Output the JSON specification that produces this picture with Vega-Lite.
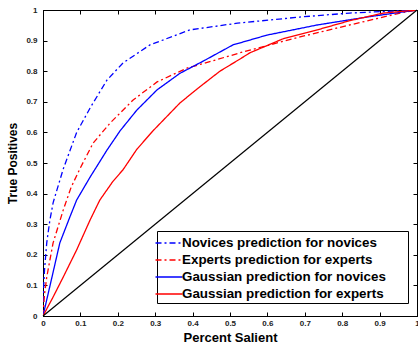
{
  "$schema": "https://vega.github.io/schema/vega-lite/v6.json",
  "width": 374,
  "height": 306,
  "autosize": {"type": "none"},
  "padding": {"left": 43, "top": 10, "right": 1, "bottom": 31},
  "background": "white",
  "config": {
    "view": {"stroke": "black", "strokeWidth": 1},
    "font": "Liberation Sans",
    "axis": {
      "grid": false,
      "domainColor": "black",
      "tickColor": "black",
      "labelFont": "Liberation Sans",
      "labelFontWeight": "bold",
      "labelFontSize": 8,
      "labelColor": "#222",
      "titleFont": "Liberation Sans",
      "titleFontWeight": "bold",
      "titleColor": "black"
    }
  },
  "datasets": {
    "curves": [
      {"s": "Novices prediction for novices", "x": 0, "y": 0},
      {"s": "Novices prediction for novices", "x": 0.002, "y": 0.1},
      {"s": "Novices prediction for novices", "x": 0.004, "y": 0.15},
      {"s": "Novices prediction for novices", "x": 0.01, "y": 0.239},
      {"s": "Novices prediction for novices", "x": 0.018, "y": 0.31},
      {"s": "Novices prediction for novices", "x": 0.027, "y": 0.37},
      {"s": "Novices prediction for novices", "x": 0.054, "y": 0.48},
      {"s": "Novices prediction for novices", "x": 0.09, "y": 0.6},
      {"s": "Novices prediction for novices", "x": 0.126, "y": 0.68},
      {"s": "Novices prediction for novices", "x": 0.171, "y": 0.771},
      {"s": "Novices prediction for novices", "x": 0.214, "y": 0.827},
      {"s": "Novices prediction for novices", "x": 0.286, "y": 0.886},
      {"s": "Novices prediction for novices", "x": 0.393, "y": 0.935},
      {"s": "Novices prediction for novices", "x": 0.52, "y": 0.957},
      {"s": "Novices prediction for novices", "x": 0.687, "y": 0.977},
      {"s": "Novices prediction for novices", "x": 0.82, "y": 0.99},
      {"s": "Novices prediction for novices", "x": 1, "y": 1},
      {"s": "Experts prediction for experts", "x": 0, "y": 0},
      {"s": "Experts prediction for experts", "x": 0.004, "y": 0.07},
      {"s": "Experts prediction for experts", "x": 0.01, "y": 0.127},
      {"s": "Experts prediction for experts", "x": 0.027, "y": 0.239},
      {"s": "Experts prediction for experts", "x": 0.054, "y": 0.346},
      {"s": "Experts prediction for experts", "x": 0.075, "y": 0.42},
      {"s": "Experts prediction for experts", "x": 0.099, "y": 0.482},
      {"s": "Experts prediction for experts", "x": 0.134, "y": 0.565},
      {"s": "Experts prediction for experts", "x": 0.179, "y": 0.63},
      {"s": "Experts prediction for experts", "x": 0.241, "y": 0.706},
      {"s": "Experts prediction for experts", "x": 0.305, "y": 0.765},
      {"s": "Experts prediction for experts", "x": 0.385, "y": 0.81},
      {"s": "Experts prediction for experts", "x": 0.42, "y": 0.822},
      {"s": "Experts prediction for experts", "x": 0.535, "y": 0.863},
      {"s": "Experts prediction for experts", "x": 0.687, "y": 0.912},
      {"s": "Experts prediction for experts", "x": 0.82, "y": 0.951},
      {"s": "Experts prediction for experts", "x": 0.955, "y": 0.99},
      {"s": "Experts prediction for experts", "x": 1, "y": 1},
      {"s": "Gaussian prediction for novices", "x": 0, "y": 0},
      {"s": "Gaussian prediction for novices", "x": 0.024, "y": 0.127},
      {"s": "Gaussian prediction for novices", "x": 0.045, "y": 0.239},
      {"s": "Gaussian prediction for novices", "x": 0.072, "y": 0.324},
      {"s": "Gaussian prediction for novices", "x": 0.09, "y": 0.379},
      {"s": "Gaussian prediction for novices", "x": 0.126, "y": 0.454},
      {"s": "Gaussian prediction for novices", "x": 0.171, "y": 0.542},
      {"s": "Gaussian prediction for novices", "x": 0.206, "y": 0.605},
      {"s": "Gaussian prediction for novices", "x": 0.251, "y": 0.673},
      {"s": "Gaussian prediction for novices", "x": 0.305, "y": 0.739},
      {"s": "Gaussian prediction for novices", "x": 0.366, "y": 0.793},
      {"s": "Gaussian prediction for novices", "x": 0.43, "y": 0.834},
      {"s": "Gaussian prediction for novices", "x": 0.508, "y": 0.886},
      {"s": "Gaussian prediction for novices", "x": 0.599, "y": 0.918},
      {"s": "Gaussian prediction for novices", "x": 0.733, "y": 0.951},
      {"s": "Gaussian prediction for novices", "x": 0.866, "y": 0.977},
      {"s": "Gaussian prediction for novices", "x": 1, "y": 1},
      {"s": "Gaussian prediction for experts", "x": 0, "y": 0},
      {"s": "Gaussian prediction for experts", "x": 0.027, "y": 0.062},
      {"s": "Gaussian prediction for experts", "x": 0.054, "y": 0.127},
      {"s": "Gaussian prediction for experts", "x": 0.09, "y": 0.216},
      {"s": "Gaussian prediction for experts", "x": 0.126, "y": 0.314},
      {"s": "Gaussian prediction for experts", "x": 0.152, "y": 0.379},
      {"s": "Gaussian prediction for experts", "x": 0.187, "y": 0.44},
      {"s": "Gaussian prediction for experts", "x": 0.214, "y": 0.478},
      {"s": "Gaussian prediction for experts", "x": 0.251, "y": 0.545},
      {"s": "Gaussian prediction for experts", "x": 0.294, "y": 0.605},
      {"s": "Gaussian prediction for experts", "x": 0.366, "y": 0.696},
      {"s": "Gaussian prediction for experts", "x": 0.412, "y": 0.742},
      {"s": "Gaussian prediction for experts", "x": 0.473, "y": 0.8},
      {"s": "Gaussian prediction for experts", "x": 0.527, "y": 0.84},
      {"s": "Gaussian prediction for experts", "x": 0.553, "y": 0.86},
      {"s": "Gaussian prediction for experts", "x": 0.642, "y": 0.906},
      {"s": "Gaussian prediction for experts", "x": 0.733, "y": 0.935},
      {"s": "Gaussian prediction for experts", "x": 0.82, "y": 0.965},
      {"s": "Gaussian prediction for experts", "x": 0.91, "y": 0.99},
      {"s": "Gaussian prediction for experts", "x": 1, "y": 1}
    ],
    "diag": [
      {"x": 0, "y": 0},
      {"x": 1, "y": 1}
    ]
  },
  "layer": [
    {
      "data": {"name": "curves"},
      "mark": {"type": "line", "strokeWidth": 1.3, "clip": true},
      "encoding": {
        "x": {
          "field": "x", "type": "quantitative",
          "scale": {"domain": [0, 1], "nice": false},
          "axis": {"orient": "bottom", "title": "Percent Salient", "titleFontSize": 13, "titlePadding": 4, "values": [0,0.1,0.2,0.3,0.4,0.5,0.6,0.7,0.8,0.9,1], "format": "~g", "tickSize": -4, "labelPadding": 7, "labelFlush": false}
        },
        "y": {
          "field": "y", "type": "quantitative",
          "scale": {"domain": [0, 1], "nice": false},
          "axis": {"orient": "left", "title": "True Positives", "titleFontSize": 12, "titlePadding": 6, "values": [0,0.1,0.2,0.3,0.4,0.5,0.6,0.7,0.8,0.9,1], "format": "~g", "tickSize": -4, "labelPadding": 10, "labelFlush": false}
        },
        "color": {
          "field": "s", "type": "nominal",
          "scale": {
            "domain": ["Novices prediction for novices", "Experts prediction for experts", "Gaussian prediction for novices", "Gaussian prediction for experts"],
            "range": ["#0000ff", "#ff0000", "#0000ff", "#ff0000"]
          },
          "legend": {
            "title": null,
            "orient": "none",
            "legendX": 114,
            "legendY": 221,
            "strokeColor": "black",
            "fillColor": "white",
            "padding": 2,
            "symbolType": "M-1.5,0L1.5,0",
            "symbolSize": 324,
            "symbolStrokeWidth": 1.5,
            "labelFont": "Liberation Sans",
            "labelFontWeight": "bold",
            "labelFontSize": 13.4,
            "labelColor": "black",
            "labelLimit": 300,
            "labelExpr": "datum.label + '\u2002\u2002\u2002\u200b'",
            "rowPadding": 0,
            "labelOffset": 3,
            "cornerRadius": 0
          }
        },
        "strokeDash": {
          "field": "s", "type": "nominal",
          "scale": {
            "domain": ["Novices prediction for novices", "Experts prediction for experts", "Gaussian prediction for novices", "Gaussian prediction for experts"],
            "range": [[6, 3, 2, 3], [6, 3, 2, 3], [1, 0], [1, 0]]
          },
          "legend": null
        }
      }
    },
    {
      "data": {"name": "diag"},
      "mark": {"type": "line", "color": "black", "strokeWidth": 1.2},
      "encoding": {
        "x": {
          "field": "x", "type": "quantitative",
          "scale": {"domain": [0, 1], "nice": false},
          "axis": {"orient": "top", "title": null, "labels": false, "values": [0,0.1,0.2,0.3,0.4,0.5,0.6,0.7,0.8,0.9,1], "tickSize": -4}
        },
        "y": {
          "field": "y", "type": "quantitative",
          "scale": {"domain": [0, 1], "nice": false},
          "axis": {"orient": "right", "title": null, "labels": false, "values": [0,0.1,0.2,0.3,0.4,0.5,0.6,0.7,0.8,0.9,1], "tickSize": -4}
        }
      }
    }
  ],
  "resolve": {"axis": {"x": "independent", "y": "independent"}}
}
